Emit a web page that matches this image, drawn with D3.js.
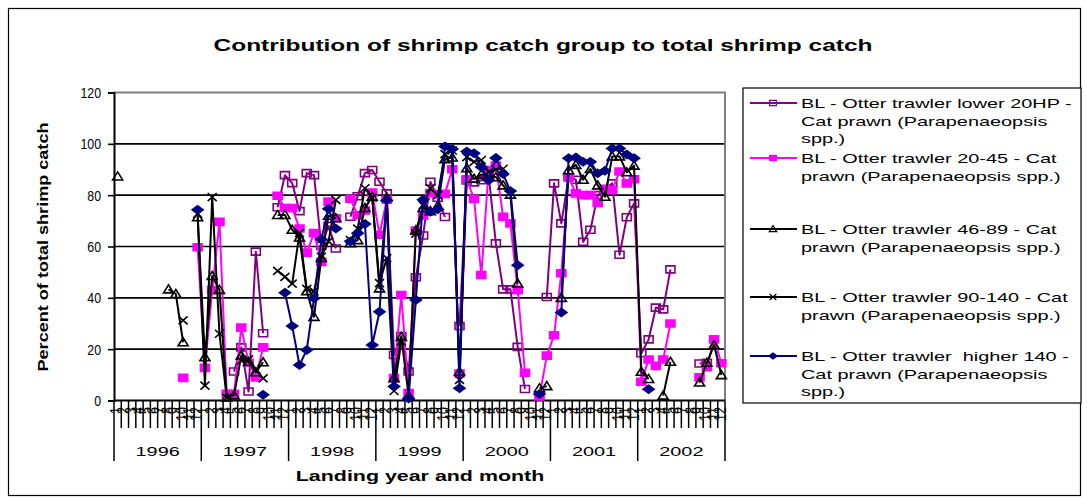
<!DOCTYPE html>
<html>
<head>
<meta charset="utf-8">
<script src="https://cdn.jsdelivr.net/npm/d3@7"></script>
<style>
  body { margin: 0; background: #fff; }
  svg { display: block; }
  text { font-family: "Liberation Sans", Arial, sans-serif; white-space: pre; }
</style>
</head>
<body>
<svg id="chart" width="1087" height="498"></svg>
<script>
// Landing years and month numbers (category axis, two levels)
const years = ["1996", "1997", "1998", "1999", "2000", "2001", "2002"];
const monthLabels = ["1","2","3","4","5","6","7","8","9","10","11","12"];
const yTicks = [0, 20, 40, 60, 80, 100, 120];

// Percent of total shrimp catch, one value per month Jan 1996 .. Dec 2002 (null = no landing)
const _ = null;
const lower20 = [
  _,_,_,_,_,_,_,_,_,_,_,_,
  _,_,_,_,11.3,20.7,3.5,58,26.2,_,75.3,87.8,
  84.7,73.8,88.6,87.8,60.3,68,59.2,_,71.6,79.6,88.6,89.8,
  85.2,80.7,17.7,25.1,11.3,48,64.3,85.2,79,71.5,_,29,
  85.7,85,85.8,88,61.2,43.3,43.3,20.9,4.5,_,_,40.3,
  84.6,69,87,86,61.8,66.5,80,82,84.6,56.8,71.4,76.8,
  18.4,23.8,36.2,35.5,51.1,_,_,_,14.4,14.7,_,_
];
const hp20to45 = [
  _,_,_,_,_,_,_,_,_,8.8,_,59.7,
  12.7,43,69.6,2.6,2.6,28.4,14.8,9,20.7,_,79.8,75,
  75,67,57.6,65.2,54,77.5,71,_,78.6,72.2,74,81,
  64.6,78.2,8.7,41.1,2.9,66.2,72,80.8,80.3,80.5,90.1,10.5,
  86.2,78.5,48.9,89.8,91.5,71.6,69,43,10.8,_,1.6,17.5,
  25.4,49.6,87,80.7,80,80,77,82.5,82,89.2,84.6,86.2,
  7.3,16,13.5,16,30,_,_,_,9,13,23.8,14.5
];
const hp46to89 = [
  87.3,_,_,_,_,_,_,43.3,41.5,22.7,_,71.4,
  16.9,48.5,43.1,1.2,2,17.5,15,11,14.9,_,72.3,72.3,
  66.5,63.5,42.6,32.6,55.5,72,71,_,61.3,62.5,75,79.4,
  43.7,79.1,8.7,24.8,2,66.3,75,73.8,75.8,94,94.7,11.2,
  90.5,86.4,88,87.5,87,83.8,80.2,45.6,_,_,4.8,5.6,
  _,40,89.7,91.8,86,90.2,83.8,79.4,95.1,95.1,88.9,91.5,
  11.2,8.4,_,1.9,15.1,_,_,_,7,14.7,21.6,9.9
];
const hp90to140 = [
  _,_,_,_,_,_,_,_,_,31.2,_,72.7,
  5.8,79.2,26,1,_,15.5,16,12,8.6,_,50.5,48.2,
  45.5,65.2,43.5,42.5,56,62,78.2,_,62.5,67,82.7,79,
  45.7,55.5,3.7,23,_,65,76,82.7,80,96,97.4,8,
  94.8,93,93.7,89,90,90.3,_,_,_,_,_,_,
  _,_,_,_,_,_,_,_,_,_,_,_,
  _,_,_,_,_,_,_,_,_,_,_,_
];
const higher140 = [
  _,_,_,_,_,_,_,_,_,_,_,74.3,
  _,_,_,_,_,_,_,_,2.2,_,_,42,
  29,13.8,19.7,39.8,62.8,74.7,67,_,62,65.2,68.8,21.6,
  34.6,78,5.5,_,0.8,39.2,78.2,73.5,74.5,99,98,4.8,
  97,96.3,91,85.8,94.5,88.2,81.6,52.7,_,_,2.5,_,
  _,34.3,94.4,94.7,93,93,88.5,89.5,98.2,98.2,95.8,94.4,
  _,4.4,_,_,_,_,_,_,_,_,_,_
];

const series = [
  { lines: ["BL - Otter trawler lower 20HP -", "Cat prawn (Parapenaeopsis", "spp.)"], values: lower20, color: "#800080", marker: "squareOpen" },
  { lines: ["BL - Otter trawler 20-45 - Cat", "prawn (Parapenaeopsis spp.)"], values: hp20to45, color: "#FF00FF", marker: "squareFilled" },
  { lines: ["BL - Otter trawler 46-89 - Cat", "prawn (Parapenaeopsis spp.)"], values: hp46to89, color: "#000000", marker: "triangle" },
  { lines: ["BL - Otter trawler 90-140 - Cat", "prawn (Parapenaeopsis spp.)"], values: hp90to140, color: "#000000", marker: "cross" },
  { lines: ["BL - Otter trawler  higher 140 -", "Cat prawn (Parapenaeopsis", "spp.)"], values: higher140, color: "#000080", marker: "diamond" }
];

const svg = d3.select("#chart");
const plot = { left: 114, right: 725, top: 92.5, bottom: 400.5 };
const SX = 1.53; // horizontal widening of the chart's lettering

// outer frame
svg.append("rect").attr("x", 8.5).attr("y", 8.5).attr("width", 1072).attr("height", 487)
  .attr("fill", "#fff").attr("stroke", "#000").attr("stroke-width", 1.2);

// scales
const keys = years.flatMap(yr => monthLabels.map(m => yr + "-" + m));
const x = d3.scaleBand().domain(keys).range([plot.left, plot.right]).padding(0);
const bw = x.bandwidth();
const cx = i => x(keys[i]) + bw / 2;
const y = d3.scaleLinear().domain([0, 120]).range([plot.bottom, plot.top]);

// title
svg.append("text")
  .attr("transform", `translate(543,51) scale(${SX},1)`)
  .attr("text-anchor", "middle").attr("font-size", 16).attr("font-weight", "bold")
  .text("Contribution of shrimp catch group to total shrimp catch");

// gridlines
svg.append("g").selectAll("line").data(yTicks.filter(t => t > 0 && t < 120)).join("line")
  .attr("x1", plot.left).attr("x2", plot.right)
  .attr("y1", d => y(d)).attr("y2", d => y(d))
  .attr("stroke", "#000").attr("stroke-width", 1.6);

// plot area border (top and right)
svg.append("path")
  .attr("d", `M${plot.left},${plot.top}H${plot.right}V${plot.bottom}`)
  .attr("fill", "none").attr("stroke", "#808080").attr("stroke-width", 2);

// value axis
const yAxis = svg.append("g").attr("transform", `translate(${plot.left},0)`)
  .call(d3.axisLeft(y).tickValues(yTicks).tickSize(6).tickFormat(d3.format("d")));
yAxis.select(".domain").attr("stroke", "#000").attr("stroke-width", 2);
yAxis.selectAll(".tick line").attr("stroke", "#000").attr("stroke-width", 1.6);
yAxis.selectAll(".tick text")
  .attr("x", 0).attr("dy", "0.36em")
  .attr("font-size", 14).attr("fill", "#000")
  .attr("font-family", '"Liberation Sans", Arial, sans-serif')
  .attr("transform", "translate(-13,0) scale(0.88,1)");

// value axis title
svg.append("text")
  .attr("transform", "translate(48,247) rotate(-90) scale(1.39,1.15)")
  .attr("text-anchor", "middle").attr("font-size", 13).attr("font-weight", "bold")
  .text("Percent of total shrimp catch");

// category axis: baseline, month separators, year separators
svg.append("line").attr("x1", plot.left).attr("x2", plot.right)
  .attr("y1", plot.bottom).attr("y2", plot.bottom)
  .attr("stroke", "#000").attr("stroke-width", 2);
const bounds = d3.range(keys.length + 1);
svg.append("g").selectAll("line").data(bounds).join("line")
  .attr("x1", k => plot.left + k * bw).attr("x2", k => plot.left + k * bw)
  .attr("y1", plot.bottom)
  .attr("y2", k => (k % 12 === 0) ? 461 : 428)
  .attr("stroke", "#000").attr("stroke-width", 1.5);

// month numbers, rotated
svg.append("g").selectAll("text").data(keys).join("text")
  .attr("transform", (d, i) => `translate(${cx(i) + 4.5},407) rotate(-90) scale(1,1.25)`)
  .attr("text-anchor", "end").attr("font-size", 12.5)
  .text(d => d.split("-")[1]);

// year labels
svg.append("g").selectAll("text").data(years).join("text")
  .attr("transform", d => `translate(${x(d + "-1") + 6 * bw},456) scale(${SX},1)`)
  .attr("text-anchor", "middle").attr("font-size", 13)
  .text(d => d);

// category axis title
svg.append("text")
  .attr("transform", `translate(420,481) scale(${SX},1)`)
  .attr("text-anchor", "middle").attr("font-size", 14).attr("font-weight", "bold")
  .text("Landing year and month");

// marker shapes (wider than tall, like the rest of the lettering)
const markerPath = {
  squareOpen: "M-4.5,-3.5H4.5V3.5H-4.5Z",
  squareFilled: "M-4.5,-3.5H4.5V3.5H-4.5Z",
  triangle: "M0,-4.5L5,3.5L-5,3.5Z",
  cross: "M-4.5,-4L4.5,4M-4.5,4L4.5,-4",
  diamond: "M0,-4L5.5,0L0,4L-5.5,0Z"
};
function styleMarker(sel, s) {
  sel.attr("d", markerPath[s.marker])
    .attr("stroke", s.color).attr("stroke-width", 1.6)
    .attr("fill", s.marker === "squareFilled" || s.marker === "diamond" ? s.color : "none");
}

// series
const line = d3.line().defined(d => d.v !== null).x(d => cx(d.i)).y(d => y(d.v));
series.forEach(s => {
  const pts = s.values.map((v, i) => ({ i, v }));
  const g = svg.append("g");
  g.append("path").datum(pts).attr("d", line)
    .attr("fill", "none").attr("stroke", s.color).attr("stroke-width", 2)
    .attr("stroke-linejoin", "round");
  g.selectAll("path.mk").data(pts.filter(d => d.v !== null)).join("path")
    .attr("class", "mk")
    .attr("transform", d => `translate(${cx(d.i)},${y(d.v)})`)
    .call(sel => styleMarker(sel, s));
});

// legend
const legend = svg.append("g");
legend.append("rect").attr("x", 743).attr("y", 88).attr("width", 338).attr("height", 315)
  .attr("fill", "#fff").attr("stroke", "#000").attr("stroke-width", 1.2);
const rowTops = [103, 158, 229, 297, 356];
const lineGap = 17.5;
series.forEach((s, k) => {
  const gy = rowTops[k];
  legend.append("line").attr("x1", 750).attr("x2", 797).attr("y1", gy).attr("y2", gy)
    .attr("stroke", s.color).attr("stroke-width", 2);
  legend.append("path").attr("transform", `translate(773,${gy}) scale(0.75)`)
    .call(sel => styleMarker(sel, s));
  s.lines.forEach((t, j) => {
    legend.append("text")
      .attr("transform", `translate(801,${gy + 5 + j * lineGap}) scale(${SX},1)`)
      .attr("font-size", 13).text(t);
  });
});
</script>
</body>
</html>
